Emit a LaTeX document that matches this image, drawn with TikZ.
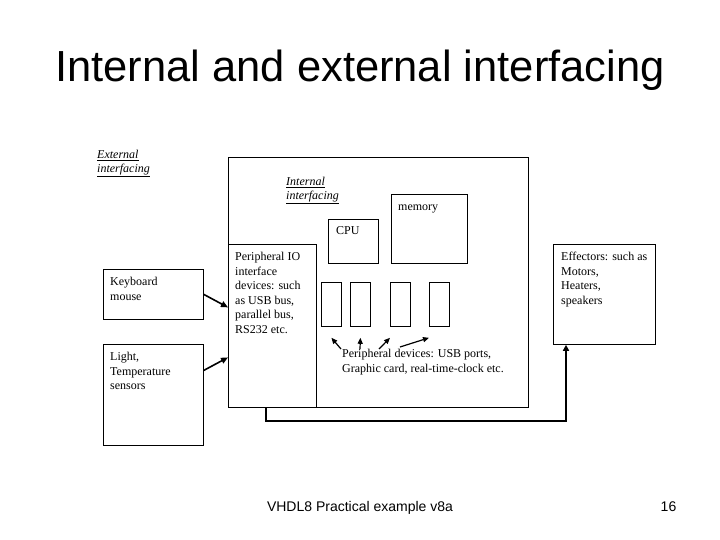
\documentclass[tikz,border=0pt]{standalone}
\usepackage{fontspec}
\setmainfont{Liberation Serif}
\newfontfamily\slidefont{Liberation Sans}
\usetikzlibrary{arrows.meta,positioning}

\begin{document}
\begin{tikzpicture}[
    x=1pt, y=-1pt,
    box/.style={draw, line width=0.8pt, anchor=north west, inner sep=0pt},
    slot/.style={box, minimum width=20pt, minimum height=44pt},
    txt/.style={anchor=north west, inner sep=0pt, align=left, font=\fontsize{12}{14.5}\selectfont},
    word/.style={anchor=base west, inner sep=0pt, font=\fontsize{12}{14.5}\selectfont},
    ulabel/.style={txt, font=\fontsize{12}{14}\selectfont\itshape},
    link/.style={-{Triangle[length=7pt,width=6pt]}, line width=1.6pt},
    pointer/.style={-{Triangle[length=6pt,width=5pt]}, line width=1.2pt},
    feed/.style={-{Triangle[length=6pt,width=6pt]}, line width=2.4pt}
]
\useasboundingbox (0,0) rectangle (720,540);

\node[font=\slidefont\fontsize{43.5}{48}\selectfont, anchor=base, inner sep=0pt] (title) at (360,82) {Internal and external interfacing};

% Boxes
\node[box, minimum width=300pt, minimum height=250pt] (system) at (228,157) {};
\node[box, minimum width=88pt, minimum height=163pt] (pio) at (228,244) {};
\node[box, minimum width=50pt, minimum height=44pt] (cpu) at (328,219) {};
\node[box, minimum width=76pt, minimum height=69pt] (mem) at (391,194) {};
\foreach \x/\n in {321/a,350/b,390/c,429/d}
    \node[slot] (slot\n) at (\x,282) {};
\node[box, minimum width=100pt, minimum height=50pt] (kbd) at (103,269) {};
\node[box, minimum width=100pt, minimum height=101pt] (sens) at (103,344) {};
\node[box, minimum width=102pt, minimum height=100pt] (eff) at (553,244) {};

% Texts
\node[ulabel] (extlabel) at (97,150) {\underline{External}\\\underline{interfacing}};
\node[ulabel] (intlabel) at (286,177) {\underline{Internal}\\\underline{interfacing}};
\node[word] (memtext) at (398,211) {memory};
\node[word] (cputext) at (336,235) {CPU};
\node[txt] (kbdtext) at (110,277) {Keyboard\\mouse};
\node[txt] (senstext) at (110,352) {Light,\\Temperature\\sensors};
\node[txt] (piotext) at (235,252) {Peripheral IO\\interface\\devices: such\\as USB bus,\\parallel bus,\\RS232 etc.};
\node[txt] (efftext) at (561,252) {Effectors: such as\\Motors,\\Heaters,\\speakers};
\node[txt] (devtext) at (342,349) {Peripheral devices: USB ports,\\Graphic card, real-time-clock etc.};

% Connections
\draw[link] (kbd.east) -- ([yshift=18.5pt]pio.west);
\draw[link] ([yshift=24.5pt]sens.east) -- ([yshift=-31.5pt]pio.west);
\draw[pointer] ([xshift=-1pt]devtext.north west) -- ([yshift=-11pt]slota.south);
\draw[pointer] ([xshift=18pt]devtext.north west) -- ([yshift=-11pt]slotb.south);
\draw[pointer] ([xshift=37pt]devtext.north west) -- ([yshift=-11pt]slotc.south west);
\draw[pointer] ([xshift=58pt,yshift=2pt]devtext.north west) -- ([yshift=-11pt]slotd.south west);
\draw[feed] ([xshift=38pt]pio.south west) -- ++(0,13) -| ([xshift=13pt]eff.south west);

\node[font=\slidefont\fontsize{14}{16}\selectfont, anchor=base, inner sep=0pt] (footer) at (360,511) {VHDL8 Practical example v8a};
\node[font=\slidefont\fontsize{14}{16}\selectfont, anchor=base, inner sep=0pt] (pagenum) at (668.5,511) {16};
\end{tikzpicture}
\end{document}
